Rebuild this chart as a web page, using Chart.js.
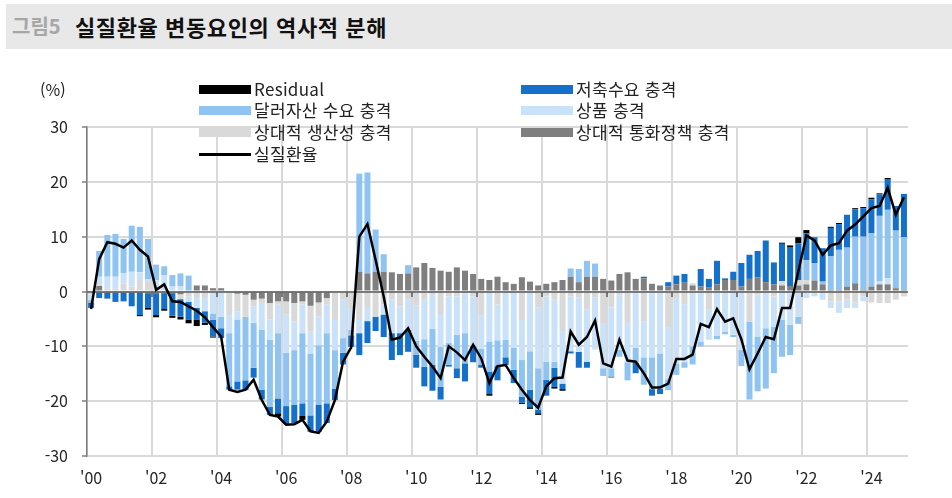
<!DOCTYPE html>
<html lang="ko">
<head>
<meta charset="utf-8">
<title>실질환율 변동요인의 역사적 분해</title>
<script src="https://cdn.jsdelivr.net/npm/chart.js@4/dist/chart.umd.min.js"></script>
<style>
  html, body { margin: 0; padding: 0; background: #fff; }
  body { font-family: "Noto Sans CJK KR", "Noto Sans", sans-serif; }
  #wrap { position: relative; width: 952px; height: 498px; overflow: hidden; }
  #chart { position: absolute; left: 0; top: 0; }
  .titlebar { position: absolute; left: 6px; top: 4px; width: 946px; height: 45px; background: #e8e8e8; }
  .titlebar .fig { position: absolute; left: 6px; top: 8px; font-size: 20px; font-weight: 700; color: #a6a6a6; line-height: 28px; }
  .titlebar .ttl { position: absolute; left: 69px; top: 8px; font-size: 22px; font-weight: 700; color: #111; line-height: 28px; letter-spacing: 0.6px; }
  .unit { position: absolute; left: 40px; top: 78px; font-size: 16px; color: #222; line-height: 22px; }
  .lg { position: absolute; height: 22px; line-height: 22px; font-size: 17px; color: #222; white-space: nowrap; letter-spacing: 0.3px; }
  .lg i { position: absolute; left: 0; width: 52px; }
  .lg span { position: absolute; left: 55px; }
</style>
</head>
<body>
<div id="wrap">
  <canvas id="chart" width="952" height="498"></canvas>
  <div class="titlebar"><span class="fig">그림5</span><span class="ttl">실질환율 변동요인의 역사적 분해</span></div>
  <div class="unit">(%)</div>
  <div id="legend"></div>
</div>
<script>
// x axis: 2000Q1 ~ 2025Q1, tick label every 2 years
const tickYears = ["'00", "'02", "'04", "'06", "'08", "'10", "'12", "'14", "'16", "'18", "'20", "'22", "'24"];
const quarters = [];
for (let y = 2000; y <= 2025; y++) {
  for (let q = 1; q <= 4; q++) {
    if (quarters.length < 101) quarters.push(y + 'Q' + q);
  }
}

// 상대적 통화정책 충격
const monetary = [
  0, 1.0, 0, 0, 0, 0, 0, -0.3, -0.3, -0.3, -0.3, -0.5, 0, 1.1, 1.1, 0.6,
  0.6, 0, -0.4, -0.6, -1.5, -1.3, -2.1, -1.8, -1.8, -2.1, -1.8, -2.6, -2.0, -1.2, 0, 0,
  0, 3.6, 3.3, 3.6, 3.6, 3.5, 3.2, 3.3, 4.4, 5.2, 4.3, 3.8, 3.6, 4.4, 3.8, 3.2,
  2.3, 2.1, 2.7, 1.7, 1.4, 2.6, 1.8, 1.1, 1.4, 1.7, 2.1, 2.7, 1.7, 2.7, 2.7, 2.3,
  2.0, 3.2, 3.5, 2.3, 2.4, 1.4, 1.1, 0.9, 1.3, 1.6, 1.1, 0.9, 0.8, 1.3, 2.1, 2.1,
  0.9, 2.3, 2.6, 1.7, 1.3, 1.1, 1.0, 1.1, 1.3, 2.0, 1.3, 0.3, 0.3, 0.9, 1.5, 0.3,
  0.9, 1.3, 1.3, 0.6, 0.3
];
// 상대적 생산성 충격
const productivity = [
  -0.5, 0.3, 0.6, 0.5, 1.5, 0.9, 2.1, 1.9, 0, 0, 0, -0.9, -0.9, -1.2, -1.2, 0,
  0, -4.3, -3.2, -4.0, -1.2, -0.8, -3.0, -0.6, -2.4, -3.4, -0.6, -4.7, -2.6, -1.2, -5.2, -1.5,
  -3.0, -5.2, -3.0, -4.6, -2.4, -1.5, -2.7, -1.5, -2.5, -1.4, -0.6, -4.1, -0.9, -0.9, -0.3, -0.9,
  -4.3, 0, -2.4, 0, 0, -5.2, 0, -2.9, -0.9, -1.5, -7.2, -0.9, -1.1, -3.3, -1.1, -5.9,
  -2.9, -0.7, -5.7, -0.3, -5.5, -0.3, 0, -6.5, -1.2, -2.3, 0.4, 0, -3.2, 0, 0, 0,
  0, -5.5, -0.6, 0, -0.9, 0.8, 0, 1.0, 0.8, 0, 0, -1.8, -1.8, -1.5, -2.0, -0.9,
  -2.0, -2.1, -2.1, -1.5, -0.9
];
// 상품 충격
const commodity = [
  -1.0, 1.4, 2.1, 2.2, 1.8, 2.7, 1.4, 0.3, 2.1, 3.0, 0.9, 1.0, -1.0, -1.8, -2.4, -4.0,
  -4.6, -3.3, -1.5, 0, -3.0, -4.9, -3.7, -5.2, -7.0, -5.2, -5.2, -4.0, -5.2, -5.2, -5.5, -7.0,
  -4.0, -2.4, -2.4, 0, -1.8, -6.1, -4.9, -5.5, -6.5, -7.3, -6.2, -6.0, -8.5, -7.0, -7.3, -9.1,
  -6.1, -9.1, -6.5, -8.8, -10.3, -7.3, -10.9, -11.1, -11.9, -11.3, -9.6, -10.0, -9.9, -9.5, -9.5, -8.1,
  -11.1, -9.9, -7.2, -10.0, -6.5, -11.7, -11.3, -9.5, -11.9, -10.6, -10.0, -9.1, -5.6, -8.1, -7.3, -7.9,
  -10.6, 0, -7.6, -6.7, -5.5, -5.2, -6.1, -4.6, -1.2, -0.9, -1.5, -1.2, -2.1, -1.5, -1.0, -0.9,
  0, 0.5, 1.1, 0, 0
];
// 달러자산 수요 충격
const dollarAsset = [
  -0.5, 4.7, 7.6, 7.8, 6.3, 8.4, 8.3, 7.4, 2.8, 1.6, 2.1, 2.3, 2.9, 0, 0, -1.2,
  -2.1, -9.7, -11.3, -11.6, -8.2, -10.9, -12.2, -11.9, -9.7, -10.0, -12.8, -11.3, -10.9, -12.8, -7.0, -2.7,
  -1.0, 17.9, 18.4, 7.7, 3.2, 0, 0, 1.5, -2.5, -5.0, -6.6, -7.3, -4.0, -6.1, -5.5, 0,
  -3.0, -5.5, -4.7, -3.2, -4.0, -6.7, -7.0, -7.6, -3.3, -1.1, 0, 1.5, 2.4, 2.9, 2.4, -1.4,
  -1.5, -1.3, -3.3, -2.7, -5.0, -5.8, -6.4, -2.0, -2.1, -1.0, -3.3, -0.9, 0, -0.6, -0.5, -0.4,
  -3.0, -14.2, -10.0, -11.0, -8.5, -6.7, -5.5, -1.3, 3.6, 3.2, 0.5, 6.1, 7.3, 7.1, 8.5, 9.7,
  9.7, 12.0, 12.5, 10.5, 9.6
];
// 저축수요 충격
const savingDemand = [
  -1.0, -1.2, -1.3, -1.9, -1.8, -2.7, -4.3, -2.7, -4.0, -2.9, -4.1, -3.2, -3.2, -2.1, -2.1, -3.0,
  -1.8, -0.6, -1.5, -1.8, -1.8, -1.8, -1.5, -2.7, -3.3, -3.3, -2.3, -3.0, -4.9, -3.6, -2.1, -2.1,
  -2.1, -4.0, -4.0, -2.6, -4.1, -4.9, -4.0, -4.0, -2.4, -3.6, -4.7, -2.3, -0.3, -1.8, -3.3, -2.9,
  -0.5, -4.1, -2.6, -1.4, -2.4, -1.1, -3.2, -0.6, -2.9, -3.5, -1.0, -0.4, -2.9, -1.1, 0, 0,
  -0.2, 0, 0, -1.9, 0.3, -1.2, -1.0, 0.8, 1.6, 1.6, 0, 3.2, 1.5, 4.3, 0.3, 1.5,
  4.3, 4.4, 4.8, 7.6, 4.0, 6.8, 7.0, 6.7, 4.9, 4.7, 6.1, 5.2, 4.7, 6.0, 5.0, 5.2,
  6.2, 3.9, 5.5, 4.5, 7.9
];
// Residual
const residual = [
  0, 0, 0, 0, 0, 0, -0.2, -0.3, -0.4, -0.3, -0.4, -0.5, -0.7, -1.2, -0.4, -0.2,
  0, 0, 0, 0, 0, 0, 0, -0.6, 0, 0, -0.7, 0, 0, 0, 0, 0,
  0, 0, 0, 0, 0, 0, 0, 0, 0, 0, 0, 0, 0, 0, 0, 0,
  0, -0.3, 0, 0, 0, -0.2, -0.3, -0.3, 0, -0.3, -0.3, 0, 0, 0, 0, 0,
  0, 0, 0, 0, 0, 0, 0, 0, 0, 0, 0, 0, 0, 0, 0, 0,
  0, 0, 0, 0, 0, 0.2, 0.4, 1.1, 0.6, 0, 0, 0.2, 0.2, 0, 0.2, 0.2,
  0.3, 0.2, 0.3, 0, 0
];
// 실질환율
const realRate = [
  -3.2, 5.9, 9.0, 8.7, 8.0, 9.3, 7.6, 6.4, 0.3, 1.3, -1.8, -1.9, -2.7, -3.5, -4.7, -6.5,
  -8.2, -17.9, -18.3, -17.9, -16.1, -19.8, -22.5, -22.8, -24.3, -24.2, -23.4, -25.5, -25.8, -23.7, -19.8, -12.8,
  -10.2, 10.0, 12.3, 5.8, -0.9, -8.8, -8.4, -6.7, -10.0, -11.9, -13.7, -15.8, -10.0, -11.1, -12.5, -9.7,
  -12.2, -16.7, -13.6, -13.4, -15.8, -17.9, -19.8, -21.2, -17.3, -15.8, -15.7, -7.3, -9.7, -8.3, -5.3, -13.1,
  -13.7, -8.8, -12.6, -12.8, -14.9, -17.5, -17.5, -16.8, -12.3, -12.3, -11.5, -5.9, -6.5, -3.2, -5.5, -4.9,
  -8.7, -14.2, -11.3, -8.3, -8.7, -3.0, -3.0, 3.6, 10.2, 9.3, 6.7, 8.4, 8.8, 11.1, 12.2, 13.7,
  15.2, 15.6, 18.9, 14.0, 17.2
];

const colors = {
  residual: '#000000',
  saving: '#1470c8',
  dollar: '#8ec3f2',
  commodity: '#c9e2f9',
  productivity: '#d9d9d9',
  monetary: '#7f7f7f'
};

// legend (two columns, like the original)
const legendItems = [
  { label: 'Residual', color: colors.residual, x: 199, y: 78 },
  { label: '저축수요 충격', color: colors.saving, x: 521, y: 78 },
  { label: '달러자산 수요 충격', color: colors.dollar, x: 199, y: 99 },
  { label: '상품 충격', color: colors.commodity, x: 521, y: 99 },
  { label: '상대적 생산성 충격', color: colors.productivity, x: 199, y: 121 },
  { label: '상대적 통화정책 충격', color: colors.monetary, x: 521, y: 121 },
  { label: '실질환율', color: '#000', x: 199, y: 143, line: true }
];
const legendEl = document.getElementById('legend');
legendItems.forEach(item => {
  const d = document.createElement('div');
  d.className = 'lg';
  d.style.left = item.x + 'px';
  d.style.top = item.y + 'px';
  const sw = document.createElement('i');
  sw.style.background = item.color;
  sw.style.height = item.line ? '3px' : '9px';
  sw.style.top = item.line ? '10px' : '7px';
  const tx = document.createElement('span');
  tx.textContent = item.label;
  d.appendChild(sw);
  d.appendChild(tx);
  legendEl.appendChild(d);
});

// zero line with small ticks, drawn over the bars but under the line
const zeroAxis = {
  id: 'zeroAxis',
  beforeDatasetDraw(chart, args) {
    if (args.meta.type !== 'line') return;
    const { ctx, chartArea, scales } = chart;
    const y0 = Math.round(scales.y.getPixelForValue(0));
    const step = (chartArea.right - chartArea.left) / quarters.length;
    ctx.save();
    ctx.strokeStyle = '#595959';
    ctx.lineWidth = 1.5;
    ctx.beginPath();
    ctx.moveTo(chartArea.left, y0);
    ctx.lineTo(chartArea.right, y0);
    for (let i = 8; i < quarters.length; i += 8) {
      const x = Math.round(chartArea.left + i * step);
      ctx.moveTo(x, y0);
      ctx.lineTo(x, y0 + 5);
    }
    ctx.stroke();
    ctx.restore();
  }
};

const barDefaults = { type: 'bar', barPercentage: 0.74, categoryPercentage: 1, borderWidth: 0, order: 1, stack: 'shocks' };

new Chart(document.getElementById('chart'), {
  type: 'bar',
  data: {
    labels: quarters,
    datasets: [
      { ...barDefaults, label: '상대적 통화정책 충격', data: monetary, backgroundColor: colors.monetary },
      { ...barDefaults, label: '상대적 생산성 충격', data: productivity, backgroundColor: colors.productivity },
      { ...barDefaults, label: '상품 충격', data: commodity, backgroundColor: colors.commodity },
      { ...barDefaults, label: '달러자산 수요 충격', data: dollarAsset, backgroundColor: colors.dollar },
      { ...barDefaults, label: '저축수요 충격', data: savingDemand, backgroundColor: colors.saving },
      { ...barDefaults, label: 'Residual', data: residual, backgroundColor: colors.residual },
      {
        type: 'line', label: '실질환율', data: realRate, stack: 'rer', order: 0,
        borderColor: '#000', borderWidth: 2.5, pointRadius: 0, tension: 0, fill: false
      }
    ]
  },
  options: {
    responsive: false,
    animation: false,
    layout: { padding: { left: 0, right: 44, top: 127, bottom: 10 } },
    plugins: { legend: { display: false }, tooltip: { enabled: false } },
    scales: {
      x: {
        stacked: true,
        offset: true,
        grid: {
          offset: true,
          drawTicks: false,
          lineWidth: 2,
          color: c => (c.index % 8 === 0 ? '#d9d9d9' : 'rgba(0,0,0,0)')
        },
        border: { display: false },
        ticks: {
          autoSkip: false, maxRotation: 0, minRotation: 0, padding: 12,
          color: '#262626',
          font: { family: '"Noto Sans CJK KR", sans-serif', size: 16 },
          callback: (v, i) => (i % 8 === 0 ? tickYears[i / 8] : '')
        },
        afterFit: s => { s.height = 32; }
      },
      y: {
        stacked: true,
        min: -30, max: 30,
        ticks: {
          stepSize: 10, padding: 14,
          color: '#262626',
          font: { family: '"Noto Sans CJK KR", sans-serif', size: 16 }
        },
        grid: {
          lineWidth: 2,
          color: '#d9d9d9',
          tickLength: 5,
          tickColor: '#7f7f7f',
          tickWidth: 1.5
        },
        border: { color: '#7f7f7f', width: 1.5 },
        afterFit: s => { s.width = 87; }
      }
    }
  },
  plugins: [zeroAxis]
});
</script>
</body>
</html>
